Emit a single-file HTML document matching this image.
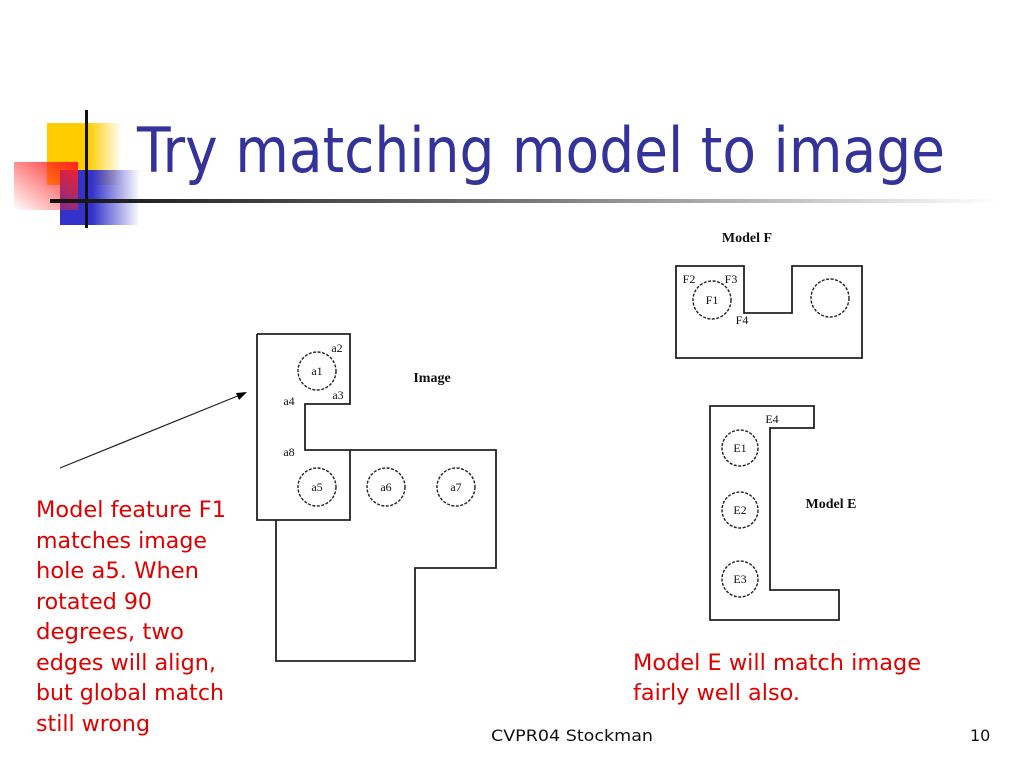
<!DOCTYPE html>
<html><head><meta charset="utf-8"><style>
html,body{margin:0;padding:0;background:#fff;}
svg{display:block;}
</style></head><body>
<svg width="1024" height="768" viewBox="0 0 1024 768" xmlns="http://www.w3.org/2000/svg">
<defs>
<linearGradient id="gy" x1="0" x2="1"><stop offset="0.55" stop-color="#ffcc00"/><stop offset="1" stop-color="#ffcc00" stop-opacity="0"/></linearGradient>
<linearGradient id="gb" x1="0" x2="1"><stop offset="0.4" stop-color="#3333cc"/><stop offset="1" stop-color="#3333cc" stop-opacity="0"/></linearGradient>
<linearGradient id="gr" x1="1" y1="0" x2="0" y2="1"><stop offset="0" stop-color="#ff2020"/><stop offset="1" stop-color="#ff2020" stop-opacity="0"/></linearGradient>
<linearGradient id="gl" x1="0" x2="1"><stop offset="0" stop-color="#111"/><stop offset="0.5" stop-color="#777"/><stop offset="1" stop-color="#fff"/></linearGradient>
</defs>
<rect x="47" y="123" width="75" height="62" fill="url(#gy)"/>
<rect x="60" y="170" width="80" height="55" fill="url(#gb)"/>
<rect x="14" y="162" width="64" height="48" fill="url(#gr)"/>
<rect x="85" y="110" width="3" height="118" fill="#111"/>
<rect x="50" y="199" width="950" height="4" fill="url(#gl)"/>
<text x="137" y="172" font-family="Tahoma,'DejaVu Sans','Liberation Sans',sans-serif" font-size="62" fill="#333399" textLength="808" lengthAdjust="spacingAndGlyphs">Try matching model to image</text>

<g fill="none" stroke="#222" stroke-width="1.8">
<path d="M257,334 H350 V404 H305 V450 H496 V568 H415 V661 H276 V520"/>
<path d="M257,334 V520 H350 V450"/>
<g stroke-dasharray="3,1.5" stroke-width="1.4">
<circle cx="317" cy="371" r="19"/><circle cx="317" cy="487" r="19"/>
<circle cx="386" cy="487" r="19"/><circle cx="456" cy="487" r="19"/>
</g>
<path d="M676,266 H744 V313 H792 V266 H862 V358 H676 Z"/>
<g stroke-dasharray="3,1.5" stroke-width="1.4">
<circle cx="712" cy="300" r="19"/><circle cx="830" cy="298" r="19"/>
</g>
<path d="M710,406 H814 V428 H770 V590 H839 V620 H710 Z"/>
<g stroke-dasharray="3,1.5" stroke-width="1.4">
<circle cx="740" cy="448" r="18"/><circle cx="740" cy="510" r="18"/><circle cx="740" cy="579" r="18"/>
</g>
<line x1="60" y1="468" x2="240" y2="395" stroke-width="1.2"/>
</g>
<polygon points="247,392 236,393 239,400" fill="#000"/>

<g font-family="'Liberation Serif',serif" font-size="12" fill="#111" text-anchor="middle">
<text x="317" y="375">a1</text><text x="337" y="352">a2</text><text x="338" y="399">a3</text>
<text x="289" y="405">a4</text><text x="317" y="491">a5</text><text x="386" y="491">a6</text>
<text x="456" y="491">a7</text><text x="289" y="456">a8</text>
<text x="712" y="304">F1</text><text x="689" y="283">F2</text><text x="731" y="283">F3</text><text x="742" y="324">F4</text>
<text x="740" y="452">E1</text><text x="740" y="514">E2</text><text x="740" y="583">E3</text><text x="772" y="423">E4</text>
</g>
<g font-family="'Liberation Serif',serif" font-size="14" font-weight="bold" fill="#111" text-anchor="middle">
<text x="432" y="382">Image</text><text x="747" y="242">Model F</text><text x="831" y="508">Model E</text>
</g>

<g font-family="Tahoma,'DejaVu Sans','Liberation Sans',sans-serif" font-size="22" fill="#e00000">
<text x="36" y="517" textLength="190" lengthAdjust="spacingAndGlyphs">Model feature F1</text>
<text x="36" y="548" textLength="171" lengthAdjust="spacingAndGlyphs">matches image</text>
<text x="36" y="578" textLength="163" lengthAdjust="spacingAndGlyphs">hole a5. When</text>
<text x="36" y="609" textLength="116" lengthAdjust="spacingAndGlyphs">rotated 90</text>
<text x="36" y="639" textLength="148" lengthAdjust="spacingAndGlyphs">degrees, two</text>
<text x="36" y="670" textLength="180" lengthAdjust="spacingAndGlyphs">edges will align,</text>
<text x="36" y="700" textLength="188" lengthAdjust="spacingAndGlyphs">but global match</text>
<text x="36" y="731" textLength="114" lengthAdjust="spacingAndGlyphs">still wrong</text>
<text x="633" y="670" textLength="288" lengthAdjust="spacingAndGlyphs">Model E will match image</text>
<text x="633" y="700" textLength="167" lengthAdjust="spacingAndGlyphs">fairly well also.</text>
</g>
<g font-family="Tahoma,'DejaVu Sans','Liberation Sans',sans-serif" font-size="16" fill="#111">
<text x="491" y="741" textLength="162" lengthAdjust="spacingAndGlyphs">CVPR04 Stockman</text>
<text x="970" y="741">10</text>
</g>
</svg>
</body></html>
